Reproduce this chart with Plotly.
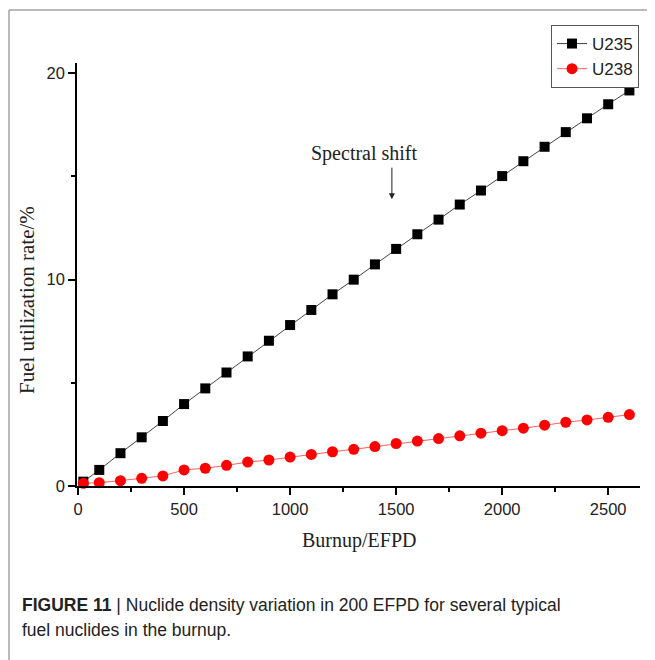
import plotly.graph_objects as go

burnup = [25, 100, 200, 300, 400, 500, 600, 700, 800, 900, 1000, 1100, 1200, 1300,
          1400, 1500, 1600, 1700, 1800, 1900, 2000, 2100, 2200, 2300, 2400, 2500, 2600]
u235 = [0.21, 0.78, 1.59, 2.36, 3.15, 3.97, 4.73, 5.50, 6.28, 7.04, 7.80, 8.53, 9.29, 10.0,
        10.74, 11.49, 12.20, 12.91, 13.64, 14.32, 15.02, 15.74, 16.44, 17.15, 17.82, 18.50, 19.17]
u238 = [0.13, 0.16, 0.26, 0.37, 0.49, 0.78, 0.86, 1.00, 1.16, 1.26, 1.40, 1.53, 1.66, 1.78,
        1.91, 2.06, 2.18, 2.30, 2.43, 2.56, 2.68, 2.80, 2.95, 3.09, 3.20, 3.33, 3.46]

x_ticks = [0, 500, 1000, 1500, 2000, 2500]
y_ticks = [0, 10, 20]

OFF = 8  # page body margin
W, H = 655 - OFF, 660 - OFF
L, T = 77 - OFF, 63 - OFF
pw, ph = 563, 423
R = W - L - pw
B = H - T - ph


def px(xp):
    return (xp - OFF - L) / pw


def py(yp):
    return (T + ph - (yp - OFF)) / ph


fig = go.Figure()
fig.add_trace(go.Scatter(
    x=burnup, y=u235, name="U235", mode="lines+markers",
    line=dict(color="#444444", width=1),
    marker=dict(symbol="square", size=10, color="black"),
    cliponaxis=False))
fig.add_trace(go.Scatter(
    x=burnup, y=u238, name="U238", mode="lines+markers",
    line=dict(color="#ff6060", width=1),
    marker=dict(symbol="circle", size=11, color="#ff0000"),
    cliponaxis=False))

axis_common = dict(showline=True, linecolor="black", linewidth=1.5,
                   ticks="outside", ticklen=7, tickwidth=1.5, tickcolor="black",
                   showgrid=False, zeroline=False,
                   tickfont=dict(family="Liberation Sans, Arial", size=16.5, color="#222"))

fig.update_xaxes(range=[-5, 2650], tickvals=x_ticks,
                 minor=dict(ticks="outside", ticklen=4, tickwidth=1.5, tickcolor="black",
                            tickvals=[250, 750, 1250, 1750, 2250]),
                 **axis_common)
fig.update_yaxes(range=[0, 20.5], tickvals=y_ticks,
                 minor=dict(ticks="outside", ticklen=4, tickwidth=1.5, tickcolor="black",
                            tickvals=[5, 15]),
                 **axis_common)

serif = "Liberation Serif, Times New Roman, serif"
sans = "Liberation Sans, Arial"
anns = [
    dict(x=px(359), y=py(540), xref="paper", yref="paper", text="Burnup/EFPD",
         showarrow=False, font=dict(family=serif, size=20, color="#222"),
         xanchor="center", yanchor="middle"),
    dict(x=px(27), y=py(300), xref="paper", yref="paper", text="Fuel utilization rate/%",
         showarrow=False, textangle=-90, font=dict(family=serif, size=21, color="#222"),
         xanchor="center", yanchor="middle"),
    dict(x=1349, y=py(153), xref="x", yref="paper", text="Spectral shift",
         showarrow=False, font=dict(family=serif, size=20, color="#222"),
         xanchor="center", yanchor="middle"),
    dict(x=1480, y=13.9, ax=1480, ay=15.5, xref="x", yref="y", axref="x", ayref="y",
         text="", showarrow=True, arrowhead=2, arrowsize=1.2, arrowwidth=1,
         arrowcolor="#222"),
    dict(x=px(20), y=py(605), xref="paper", yref="paper",
         text="<b>FIGURE 11</b> | Nuclide density variation in 200 EFPD for several typical",
         showarrow=False, font=dict(family=sans, size=17.5, color="#222"),
         xanchor="left", yanchor="middle"),
    dict(x=px(20), y=py(630), xref="paper", yref="paper",
         text="fuel nuclides in the burnup.",
         showarrow=False, font=dict(family=sans, size=17.5, color="#222"),
         xanchor="left", yanchor="middle"),
]

shapes = [
    dict(type="line", xref="paper", yref="paper", x0=px(9), x1=px(9), y0=py(10), y1=py(680),
         line=dict(color="#777777", width=1)),
    dict(type="line", xref="paper", yref="paper", x0=px(9), x1=px(680), y0=py(10), y1=py(10),
         line=dict(color="#777777", width=1)),
]

fig.update_layout(
    width=W, height=H,
    margin=dict(l=L, r=R, t=T, b=B, pad=0),
    paper_bgcolor="white", plot_bgcolor="white",
    showlegend=True,
    legend=dict(x=px(551), y=py(25), xanchor="left", yanchor="top",
                bordercolor="#555555", borderwidth=1, bgcolor="white",
                font=dict(family=sans, size=17, color="#222"),
                tracegroupgap=0, itemwidth=30),
    annotations=anns, shapes=shapes,
)

fig.write_html("out.html")
